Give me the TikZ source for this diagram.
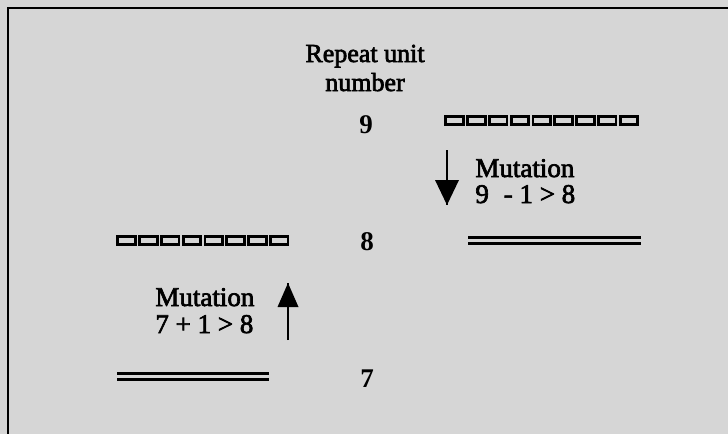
\documentclass[tikz,border=0pt]{standalone}
\usepackage{fontspec}
\setmainfont{Liberation Serif}
\newfontfamily\heavyserif[FakeBold=2.5]{Liberation Serif}
\begin{document}
\begin{tikzpicture}[x=0.5pt,y=-0.5pt,
  lbl/.style={font=\heavyserif\fontsize{13.5pt}{16pt}\selectfont, inner sep=0pt, anchor=base west},
  hdr/.style={font=\heavyserif\fontsize{13pt}{15pt}\selectfont, inner sep=0pt, anchor=base},
  num/.style={font=\fontsize{13.5pt}{16pt}\selectfont\bfseries, inner sep=0pt, anchor=base},
  unitbox/.style={draw=black, line width=1.4pt, fill=none, minimum width=8.8pt, minimum height=4pt, inner sep=0pt},
  dbl/.style={line width=1.5pt},
  shaft/.style={line width=1.1pt},
  head/.style={fill=black}]
% canvas and frame
\fill[fill={rgb,255:red,214;green,214;blue,214}] (0,0) rectangle (728,434);
\useasboundingbox (0,0) rectangle (728,434);
\draw[line width=1.2pt] (7,8) -- (728,8);
\draw[line width=1.2pt] (8,8) -- (8,434);

% column heading and repeat counts
\node[hdr] (hdr1) at (365,62) {Repeat unit};
\node[hdr] (hdr2) at (365,91) {number};
\node[num] (n9) at (366,133) {9};
\node[num] (n8) at (367,250) {8};
\node[num] (n7) at (367,387) {7};

% nine repeat units
\foreach \i in {0,...,8}
  \node[unitbox] (r9u\i) at ({454.5+21.8*\i},120.5) {};
% eight repeat units
\foreach \i in {0,...,7}
  \node[unitbox] (l8u\i) at ({126.5+21.8*\i},240.5) {};

% collapsed double strands
\coordinate (rd1) at (468,237.5);
\coordinate (rd2) at (641,237.5);
\coordinate (rd3) at (468,243.5);
\coordinate (rd4) at (641,243.5);
\draw[dbl] (rd1) -- (rd2);
\draw[dbl] (rd3) -- (rd4);
\coordinate (ld1) at (117,373.5);
\coordinate (ld2) at (269,373.5);
\coordinate (ld3) at (117,379.5);
\coordinate (ld4) at (269,379.5);
\draw[dbl] (ld1) -- (ld2);
\draw[dbl] (ld3) -- (ld4);

% downward mutation arrow
\coordinate (da1) at (447,150);
\coordinate (da2) at (447,205);
\draw[shaft] (da1) -- (da2);
\fill[head] (435,180) -- (459,180) -- (da2) -- cycle;
\node[lbl] (mutR) at (475,177) {Mutation};
\node[lbl] (eqR) at (475,203) {9\hspace{0.3em} - 1 > 8};

% upward mutation arrow
\coordinate (ua1) at (288,340);
\coordinate (ua2) at (288,283);
\draw[shaft] (ua1) -- (ua2);
\fill[head] (277.5,307) -- (298.5,307) -- (ua2) -- cycle;
\node[lbl] (mutL) at (155,306) {Mutation};
\node[lbl] (eqL) at (155,333) {7 + 1 > 8};
\end{tikzpicture}
\end{document}
